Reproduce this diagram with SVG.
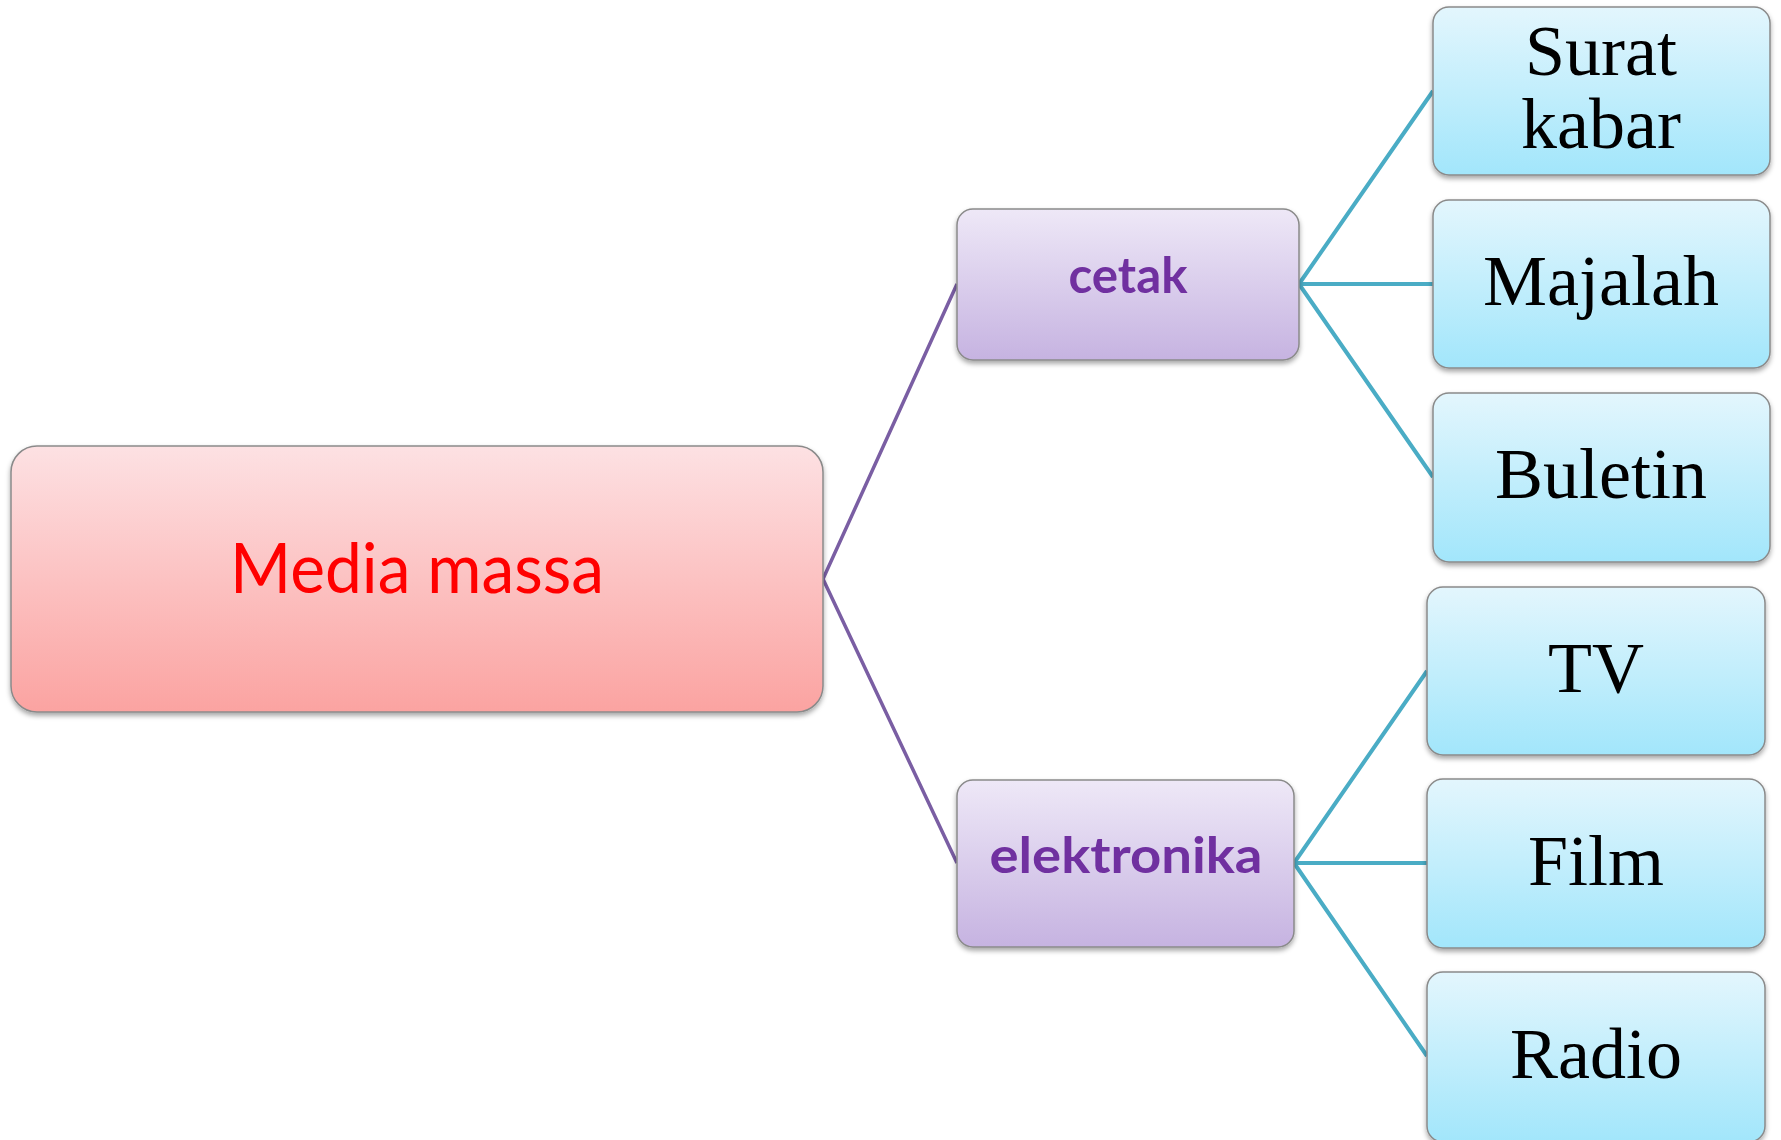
<svg xmlns="http://www.w3.org/2000/svg" width="1781" height="1140" viewBox="0 0 1781 1140">
<style>
.box{stroke:#8a8a8a;stroke-width:1.5;filter:url(#sh)}
.leaf{fill:url(#gBlue)}
.mid{fill:url(#gPurple)}
.t-leaf{font-family:"Liberation Serif","Times New Roman",serif;font-size:72px;fill:#000;text-anchor:middle}
.t-mid{font-family:Lato,"Open Sans",sans-serif;font-weight:bold;font-size:50px;fill:#7030a0;text-anchor:middle}
.t-root{font-family:Lato,"Open Sans",sans-serif;font-size:70px;fill:#ff0000;text-anchor:middle}
.c1{stroke:#7a5ea3;stroke-width:3.5;fill:none}
.c2{stroke:#4aacc5;stroke-width:4;fill:none}
</style>
<defs>
<linearGradient id="gRed" x1="0" y1="0" x2="0" y2="1"><stop offset="0" stop-color="#fde1e3"/><stop offset="1" stop-color="#fba3a1"/></linearGradient>
<linearGradient id="gPurple" x1="0" y1="0" x2="0" y2="1"><stop offset="0" stop-color="#eee8f7"/><stop offset="1" stop-color="#c6b3e1"/></linearGradient>
<linearGradient id="gBlue" x1="0" y1="0" x2="0" y2="1"><stop offset="0" stop-color="#e3f6fd"/><stop offset="1" stop-color="#a2e6fb"/></linearGradient>
<filter id="sh" x="-5%" y="-5%" width="110%" height="120%"><feDropShadow dx="0" dy="3" stdDeviation="2.5" flood-color="#000" flood-opacity="0.35"/></filter>
</defs>
<rect width="1781" height="1140" fill="#fff"/>
<g id="connectors">
<path class="c1" d="M823 579 L957 284 M823 579 L957 863"/>
<path class="c2" d="M1299 284 L1433 91 M1299 284 L1433 284 M1299 284 L1433 477"/>
<path class="c2" d="M1294 863 L1427 671 M1294 863 L1427 863 M1294 863 L1427 1056"/>
</g>
<g id="media-massa">
<rect class="box" x="11" y="446" width="812" height="266" rx="26" fill="url(#gRed)"/>
<text class="t-root" x="417" y="593" textLength="374" lengthAdjust="spacingAndGlyphs">Media massa</text>
</g>
<g id="cetak">
<rect class="box mid" x="957" y="209" width="342" height="151" rx="16"/>
<text class="t-mid" x="1128" y="293" textLength="119" lengthAdjust="spacingAndGlyphs">cetak</text>
</g>
<g id="elektronika">
<rect class="box mid" x="957" y="780" width="337" height="167" rx="16"/>
<text class="t-mid" x="1126" y="873" textLength="273" lengthAdjust="spacingAndGlyphs">elektronika</text>
</g>
<g id="surat-kabar">
<rect class="box leaf" x="1433" y="7" width="337" height="168" rx="16"/>
<text class="t-leaf" x="1601" y="75">Surat</text>
<text class="t-leaf" x="1601" y="148">kabar</text>
</g>
<g id="majalah">
<rect class="box leaf" x="1433" y="200" width="337" height="168" rx="16"/>
<text class="t-leaf" x="1601" y="305">Majalah</text>
</g>
<g id="buletin">
<rect class="box leaf" x="1433" y="393" width="337" height="169" rx="16"/>
<text class="t-leaf" x="1601" y="498">Buletin</text>
</g>
<g id="tv">
<rect class="box leaf" x="1427" y="587" width="338" height="168" rx="16"/>
<text class="t-leaf" x="1596" y="692">TV</text>
</g>
<g id="film">
<rect class="box leaf" x="1427" y="779" width="338" height="169" rx="16"/>
<text class="t-leaf" x="1596" y="885">Film</text>
</g>
<g id="radio">
<rect class="box leaf" x="1427" y="972" width="338" height="170" rx="16"/>
<text class="t-leaf" x="1596" y="1078">Radio</text>
</g>
</svg>
